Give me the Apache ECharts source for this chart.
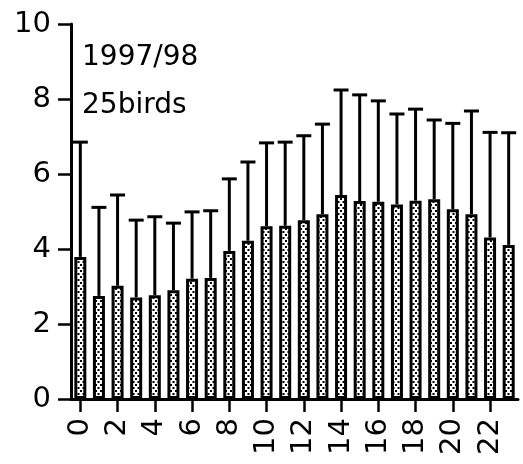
<!DOCTYPE html>
<html>
<head>
<meta charset="utf-8">
<script src="https://cdn.jsdelivr.net/npm/echarts@6/dist/echarts.min.js"></script>
<style>
  html, body { margin: 0; padding: 0; background: #fff; }
  #chart { width: 523px; height: 464px; }
</style>
</head>
<body>
<div id="chart"></div>
<script>
// Hourly values (hour of day 0-23) with upper error bars
var hours = ['0','1','2','3','4','5','6','7','8','9','10','11','12','13','14','15','16','17','18','19','20','21','22','23'];
var means = [3.79, 2.75, 3.02, 2.71, 2.77, 2.90, 3.21, 3.23, 3.95, 4.22, 4.61, 4.62,
             4.77, 4.93, 5.44, 5.28, 5.26, 5.19, 5.29, 5.33, 5.06, 4.93, 4.31, 4.11];
var upper = [6.85, 5.11, 5.44, 4.77, 4.86, 4.69, 4.99, 5.02, 5.87, 6.32, 6.83, 6.85,
             7.02, 7.33, 8.24, 8.11, 7.95, 7.60, 7.73, 7.44, 7.35, 7.68, 7.11, 7.10];
var yTicks = [0, 2, 4, 6, 8, 10];
var noteLines = ['1997/98', '25birds'];

// Dotted fill used inside the bars
function dotPattern() {
  var c = document.createElement('canvas');
  c.width = 5; c.height = 6;
  var g = c.getContext('2d');
  g.fillStyle = '#fff';
  g.fillRect(0, 0, 5, 6);
  g.fillStyle = '#000';
  g.fillRect(0, 0, 2, 2);
  g.fillRect(2.5, 3, 2, 2);
  return c;
}

var FONT = '"DejaVu Sans", Verdana, sans-serif';
var chart = echarts.init(document.getElementById('chart'), null, { renderer: 'canvas' });

var errData = hours.map(function (h, i) { return [i, means[i], upper[i]]; });

chart.setOption({
  animation: false,
  backgroundColor: '#fff',
  grid: { left: 71, right: 5, top: 24, bottom: 65, containLabel: false },
  xAxis: {
    type: 'category',
    data: hours,
    axisLine: { show: true, lineStyle: { color: '#000', width: 3 } },
    axisTick: { show: true, interval: 1, alignWithLabel: true, length: 13, lineStyle: { color: '#000', width: 2.5 } },
    axisLabel: { interval: 1, rotate: 90, margin: 19, color: '#000', fontSize: 29, fontFamily: FONT },
    splitLine: { show: false }
  },
  yAxis: {
    type: 'value',
    min: yTicks[0],
    max: yTicks[yTicks.length - 1],
    interval: 2,
    axisLine: { show: true, lineStyle: { color: '#000', width: 3 } },
    axisTick: { show: true, length: 13, lineStyle: { color: '#000', width: 2.5 } },
    axisLabel: { margin: 20, color: '#000', fontSize: 29, fontFamily: FONT },
    splitLine: { show: false }
  },
  graphic: noteLines.map(function (t, i) {
    return {
      type: 'text',
      left: 82,
      top: 44 + i * 48,
      style: { text: t, fill: '#000', font: '28px ' + FONT }
    };
  }),
  series: [
    {
      type: 'bar',
      data: means,
      barWidth: 12,
      itemStyle: {
        color: { image: dotPattern(), repeat: 'repeat' },
        borderColor: '#000',
        borderWidth: 3
      }
    },
    {
      type: 'custom',
      data: errData,
      renderItem: function (params, api) {
        var i = api.value(0);
        var base = api.coord([i, api.value(1)]);
        var top = api.coord([i, api.value(2)]);
        var half = 7.5;
        var st = { stroke: '#000', lineWidth: 3 };
        return {
          type: 'group',
          children: [
            { type: 'line', shape: { x1: base[0], y1: base[1], x2: top[0], y2: top[1] }, style: st },
            { type: 'line', shape: { x1: top[0] - half, y1: top[1], x2: top[0] + half, y2: top[1] }, style: st }
          ]
        };
      },
      z: 3
    }
  ]
});
</script>
</body>
</html>
